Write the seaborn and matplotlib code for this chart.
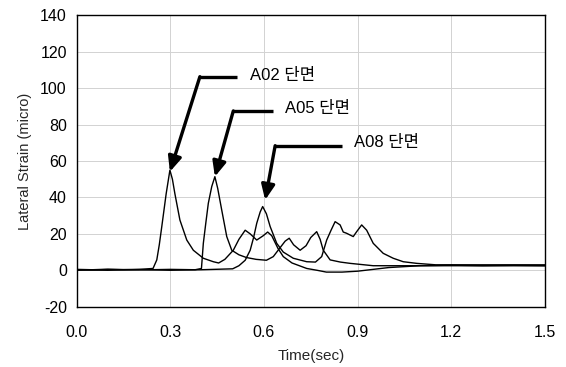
import matplotlib
matplotlib.use("Agg")
import matplotlib.pyplot as plt
import seaborn as sns
import pandas as pd

# ---- data ----
a02_t = [0.0, 0.05, 0.10, 0.15, 0.20, 0.245, 0.257, 0.265, 0.273, 0.287, 0.299, 0.307, 0.315, 0.331,
         0.353, 0.374, 0.406, 0.438, 0.455, 0.475, 0.502, 0.52, 0.540, 0.556, 0.577, 0.598, 0.612,
         0.625, 0.645, 0.662, 0.69, 0.737, 0.77, 0.80, 0.85, 0.90, 0.95, 1.0, 1.05, 1.1, 1.2, 1.3,
         1.4, 1.5]
a02_v = [0.5, 0.3, 0.6, 0.4, 0.5, 1.0, 5.7, 14, 24, 42, 55, 50, 42, 27.6,
         16.6, 11, 6.6, 4.7, 4.0, 6, 11, 17, 22, 20, 16.6, 19, 21,
         19, 12, 7.5, 4, 1, 0, -1, -1, -0.5, 0.5, 1.5, 2, 2.5, 2.5, 2.5,
         2.5, 2.5]

a05_t = [0.0, 0.1, 0.2, 0.3, 0.38, 0.40, 0.406, 0.414, 0.422, 0.433, 0.443, 0.452, 0.465, 0.481,
         0.497, 0.52, 0.544, 0.575, 0.608, 0.63, 0.65, 0.668, 0.681, 0.695, 0.716, 0.735, 0.75,
         0.769, 0.78, 0.79, 0.812, 0.845, 0.876, 0.95, 1.0, 1.1, 1.2, 1.3, 1.4, 1.5]
a05_v = [0, 0.4, 0.2, 0.5, 0.3, 1, 14.8, 26, 36.8, 46, 51.4, 45, 33, 18.5,
         11, 8.5, 7, 6, 5.5, 7.5, 12, 16, 17.6, 14, 11, 13.5, 18,
         21.2, 17, 11, 5.7, 4.5, 3.8, 2.5, 2.5, 2.5, 2.8, 2.5, 2.7, 2.5]

a08_t = [0.0, 0.1, 0.2, 0.3, 0.4, 0.5, 0.52, 0.54, 0.556, 0.567, 0.577, 0.588, 0.596, 0.608, 0.62,
         0.641, 0.662, 0.694, 0.737, 0.765, 0.785, 0.801, 0.815, 0.828, 0.844, 0.854, 0.865, 0.886,
         0.897, 0.913, 0.929, 0.950, 0.982, 1.014, 1.046, 1.089, 1.15, 1.2, 1.3, 1.4, 1.5]
a08_v = [0.3, 0, 0.4, 0, 0.3, 0.8, 2.5, 5.5, 11, 18, 25.8, 32, 35, 31, 24,
         14.8, 10, 6.6, 4.7, 4.5, 7.5, 16.6, 22, 26.7, 24.9, 21, 20.3, 18.5,
         21.2, 24.9, 22, 14.8, 9.3, 6.6, 4.7, 3.8, 3, 3, 3, 3, 3]

labels = ["A02 단면", "A05 단면", "A08 단면"]
# annotation anchors: (arrow tip), (elbow), (end of horizontal), (text position)
tips = [(0.299, 54.1), (0.443, 51.4), (0.604, 38.6)]
elbows = [(0.395, 106.3), (0.502, 87.5), (0.636, 68.4)]
ends = [(0.515, 106.3), (0.630, 87.5), (0.849, 68.4)]
text_pos = [(0.556, 107.2), (0.668, 88.6), (0.889, 69.9)]

xticks = [0.0, 0.3, 0.6, 0.9, 1.2, 1.5]
yticks = [-20, 0, 20, 40, 60, 80, 100, 120, 140]

df = pd.concat([
    pd.DataFrame({"t": a02_t, "v": a02_v, "s": "A02"}),
    pd.DataFrame({"t": a05_t, "v": a05_v, "s": "A05"}),
    pd.DataFrame({"t": a08_t, "v": a08_v, "s": "A08"}),
], ignore_index=True)

sns.set_style("white")
plt.rcParams["font.family"] = ["Liberation Sans", "Noto Sans CJK KR", "DejaVu Sans"]
plt.rcParams["axes.unicode_minus"] = False

fig = plt.figure(figsize=(5.66, 3.67), dpi=100)
ax = fig.add_axes([0.1352, 0.1643, 0.8277, 0.794])

sns.lineplot(data=df, x="t", y="v", hue="s", palette=["black"] * 3, estimator=None,
             sort=False, legend=False, linewidth=1.0, ax=ax)

ax.set_xlim(0, 1.5)
ax.set_ylim(-20, 140)
ax.set_xticks(xticks)
ax.set_xticklabels([f"{x:.1f}" for x in xticks])
ax.set_yticks(yticks)
ax.grid(True, color="#d2d2d2", linewidth=0.7)
ax.set_axisbelow(True)
for sp in ax.spines.values():
    sp.set_color("black")
    sp.set_linewidth(1.0)
    sp.set_visible(True)
ax.tick_params(axis="y", direction="out", length=4, width=1, labelsize=11.5, pad=3, colors="black")
ax.tick_params(axis="x", length=0, labelsize=11.5, pad=13, colors="black")
ax.set_xlabel("Time(sec)", fontsize=11, labelpad=7)
ax.set_ylabel("Lateral Strain (micro)", fontsize=10.5, labelpad=6)

for lab, tip, el, en, tp in zip(labels, tips, elbows, ends, text_pos):
    ax.plot([en[0], el[0]], [en[1], el[1]], color="black", lw=2.4, solid_capstyle="butt")
    ax.annotate("", xy=tip, xytext=el,
                arrowprops=dict(arrowstyle="-|>,head_length=0.9,head_width=0.4",
                                color="black", lw=2.4, shrinkA=0, shrinkB=0))
    ax.text(tp[0], tp[1], lab, fontsize=12, va="center", ha="left", color="black")

fig.savefig("out.png", dpi=100)
